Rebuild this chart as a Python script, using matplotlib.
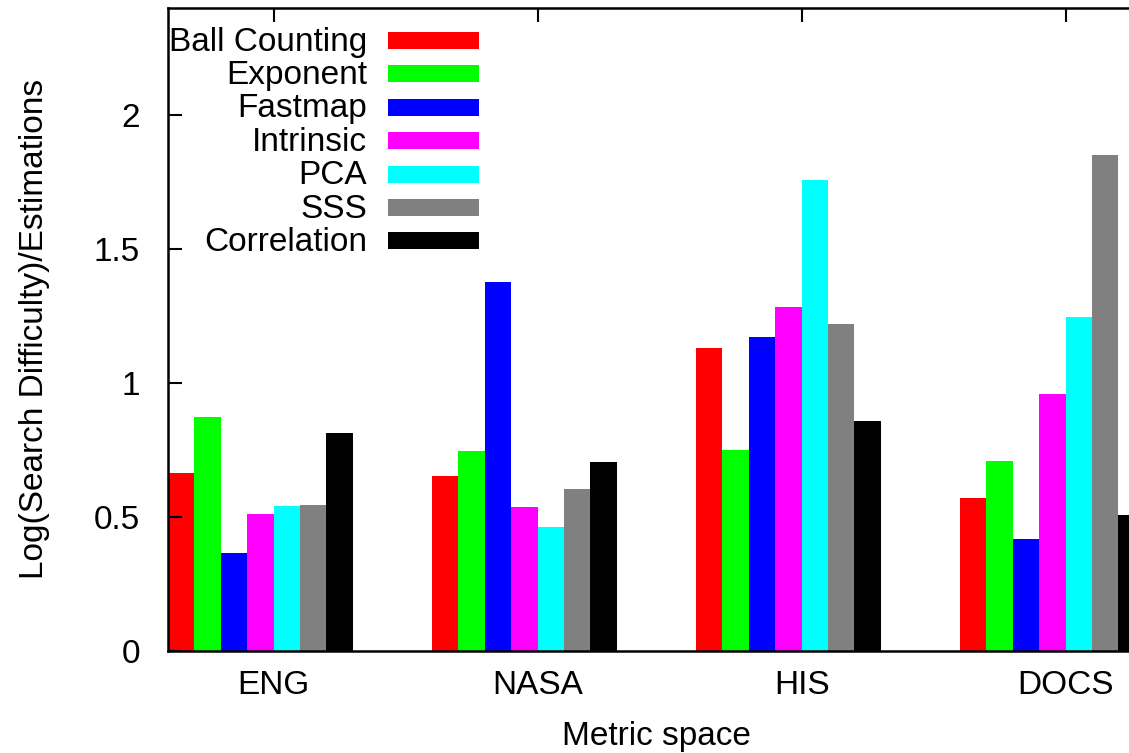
import matplotlib
matplotlib.use("Agg")
import matplotlib.pyplot as plt
from matplotlib.patches import Rectangle

plt.rcParams['font.family'] = ['Liberation Sans', 'DejaVu Sans']

spaces = ["ENG", "NASA", "HIS", "DOCS"]
methods = ["Ball Counting", "Exponent", "Fastmap", "Intrinsic", "PCA", "SSS", "Correlation"]
colors = ["#ff0000", "#00ff00", "#0000ff", "#ff00ff", "#00ffff", "#808080", "#000000"]

ball_counting = [0.664, 0.653, 1.131, 0.571]
exponent = [0.873, 0.746, 0.750, 0.709]
fastmap = [0.366, 1.377, 1.172, 0.418]
intrinsic = [0.511, 0.537, 1.284, 0.959]
pca = [0.541, 0.463, 1.757, 1.246]
sss = [0.545, 0.604, 1.220, 1.851]
correlation = [0.813, 0.705, 0.858, 0.507]
series = [ball_counting, exponent, fastmap, intrinsic, pca, sss, correlation]

W, H = 1129, 753
fig = plt.figure(figsize=(W / 100, H / 100), dpi=100)
# axes run past the right edge of the picture, like the original
ax = fig.add_axes([168 / W, (H - 651) / H, (1224 - 168) / W, (651 - 8) / H])

group = 10  # 7 bars + 3 gap
for j, vals in enumerate(series):
    xs = [i * group + j for i in range(len(spaces))]
    ax.bar(xs, vals, width=1, align='edge', color=colors[j], linewidth=0)

ax.set_xlim(0, 40)
ax.set_ylim(0, 2.4)
ax.set_yticks([0, 0.5, 1, 1.5, 2])
ax.set_yticklabels(["0", "0.5", "1", "1.5", "2"])
ax.set_xticks([i * group + 4 for i in range(len(spaces))])
ax.set_xticklabels(spaces)
ax.tick_params(axis='y', direction='in', length=10, width=1.5, labelsize=24, pad=20, right=False)
ax.tick_params(axis='x', direction='in', length=10, width=1.5, labelsize=24, pad=14,
               bottom=False, top=True)
for s in ax.spines.values():
    s.set_linewidth(1.8)

fig.text(35 / W, 1 - 329 / H, "Log(Search Difficulty)/Estimations", rotation=90,
         ha='center', va='center', fontsize=24)
fig.text(656 / W, 1 - 745 / H, "Metric space", ha='center', va='baseline', fontsize=24)

# legend drawn by hand: label right-aligned, swatch to the right
for k, name in enumerate(methods):
    yc = 40.5 + k * 33.4
    fig.text(367 / W, 1 - (yc + 10) / H, name, ha='right', va='baseline', fontsize=24)
    fig.patches.append(Rectangle((388 / W, 1 - (yc + 8.5) / H), 91 / W, 17 / H,
                                 transform=fig.transFigure, facecolor=colors[k],
                                 linewidth=0))

fig.savefig("out.png", dpi=100)
